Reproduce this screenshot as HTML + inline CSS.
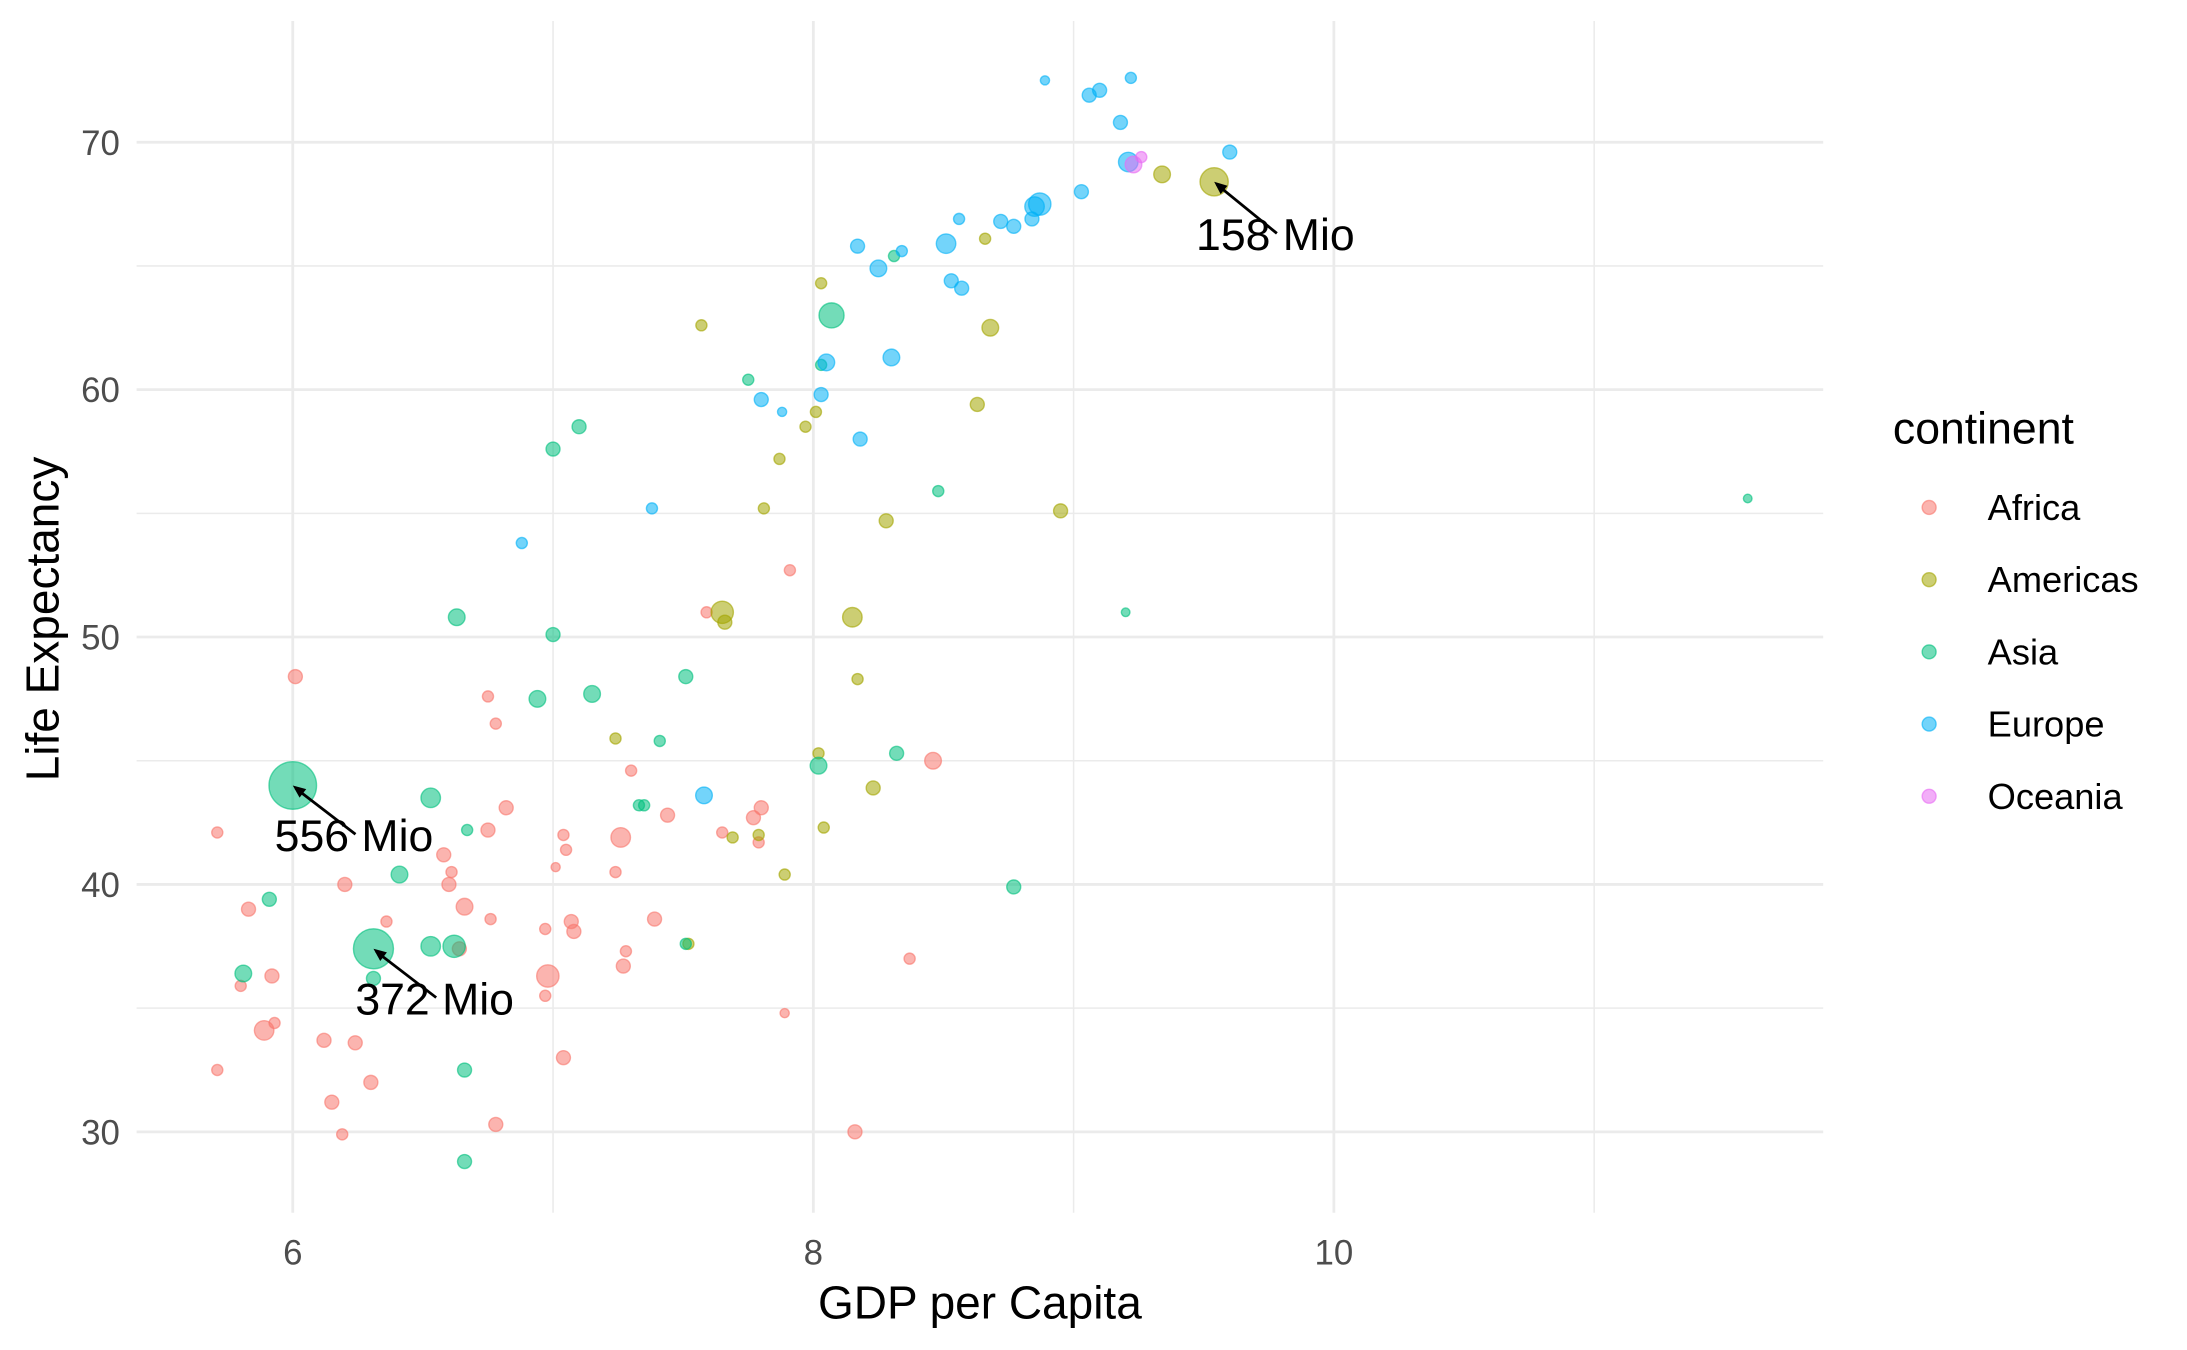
<!DOCTYPE html>
<html><head><meta charset="utf-8"><style>
html,body{margin:0;padding:0;background:#fff;}
svg{display:block;font-family:"Liberation Sans",Arial,sans-serif;}
</style></head><body>
<svg id="chart" width="2187" height="1350" viewBox="0 0 1569 968.4" xmlns="http://www.w3.org/2000/svg">
<g id="grid"></g>
<g id="points"></g>
<g id="annots"></g>
<g id="axes"></g>
<g id="legend"></g>
</svg>
<script>
const continents = ["Africa","Americas","Asia","Europe","Oceania"];
const colors = ["#F8766D","#A3A500","#00BF7D","#00B0F6","#E76BF3"];
const xTicks = [6,8,10];
const yTicks = [30,40,50,60,70];
const africaGdp = [5.71,5.71,6.01,5.83,5.92,5.80,5.93,5.89,6.12,6.24,6.15,6.30,6.19,6.20,6.36,6.58,6.61,6.60,6.66,6.75,6.82,6.75,6.78,6.76,6.64,6.78,6.98,6.97,6.97,7.01,7.04,7.05,7.07,7.08,7.04,7.26,7.24,7.30,7.28,7.27,7.39,7.44,7.59,7.65,7.77,7.80,7.79,7.91,7.89,8.16,8.46,8.37];
const africaLife = [32.5,42.1,48.4,39.0,36.3,35.9,34.4,34.1,33.7,33.6,31.2,32.0,29.9,40.0,38.5,41.2,40.5,40.0,39.1,42.2,43.1,47.6,46.5,38.6,37.4,30.3,36.3,35.5,38.2,40.7,42.0,41.4,38.5,38.1,33.0,41.9,40.5,44.6,37.3,36.7,38.6,42.8,51.0,42.1,42.7,43.1,41.7,52.7,34.8,30.0,45.0,37.0];
const africaPop = [8,8,20,20,20,8,8,58,20,20,20,20,8,20,8,20,8,20,36,20,20,8,8,8,20,20,85,8,8,3,8,8,20,20,20,58,8,8,8,20,20,20,8,8,20,20,8,8,3,20,36,8];
const americasGdp = [7.57,7.65,7.66,7.81,7.87,7.97,8.01,8.03,8.15,8.17,8.02,7.24,7.69,7.79,7.89,8.04,8.23,8.28,8.63,8.68,8.66,8.95,9.34,9.54,7.52];
const americasLife = [62.6,51.0,50.6,55.2,57.2,58.5,59.1,64.3,50.8,48.3,45.3,45.9,41.9,42.0,40.4,42.3,43.9,54.7,59.4,62.5,66.1,55.1,68.7,68.4,37.6];
const americasPop = [8,85,20,8,8,8,8,8,58,8,8,8,8,8,8,8,20,20,20,36,8,20,36,158,8];
const asiaGdp = [5.81,5.91,6.00,6.31,6.31,6.41,6.53,6.53,6.62,6.67,6.66,6.66,6.63,6.94,7.00,7.00,7.10,7.15,7.33,7.35,7.41,7.51,7.51,7.75,8.02,8.03,8.07,8.32,8.31,8.48,8.77,9.20,11.59];
const asiaLife = [36.4,39.4,44.0,37.4,36.2,40.4,43.5,37.5,37.5,42.2,32.5,28.8,50.8,47.5,50.1,57.6,58.5,47.7,43.2,43.2,45.8,48.4,37.6,60.4,44.8,61.0,63.0,45.3,65.4,55.9,39.9,51.0,55.6];
const asiaPop = [36,20,556,372,20,36,58,58,85,8,20,20,36,36,20,20,20,36,8,8,8,20,8,8,36,8,116,20,8,8,20,2,2];
const europeGdp = [6.88,7.38,7.58,7.80,7.88,8.03,8.05,8.18,8.17,8.25,8.30,8.34,8.51,8.53,8.57,8.56,8.72,8.77,8.84,8.85,8.87,8.89,9.03,9.06,9.10,9.18,9.21,9.22,9.60];
const europeLife = [53.8,55.2,43.6,59.6,59.1,59.8,61.1,58.0,65.8,64.9,61.3,65.6,65.9,64.4,64.1,66.9,66.8,66.6,66.9,67.4,67.5,72.5,68.0,71.9,72.1,70.8,69.2,72.6,69.6];
const europePop = [8,8,36,20,3,20,36,20,20,36,36,8,58,20,20,8,20,20,20,58,85,3,20,20,20,20,58,8,20];
const oceaniaGdp = [9.26,9.23];
const oceaniaLife = [69.4,69.1];
const oceaniaPop = [8,36];
const labelText = ["556 Mio","372 Mio","158 Mio"];
const labelGdp = [6.0,6.31,9.54];
const labelLife = [44.0,37.4,68.4];

const NS="http://www.w3.org/2000/svg";
const L=98,R=1308,T=15,B=870;
const xMin=5.40,xMax=11.88,yMin=26.73,yMax=74.9;
function sx(v){return L+(v-xMin)/(xMax-xMin)*(R-L);}
function sy(v){return B-(v-yMin)/(yMax-yMin)*(B-T);}
function rad(p){return 2.2+0.63*Math.sqrt(p);}
function mk(tag,attrs,parent){const e=document.createElementNS(NS,tag);for(const k in attrs)e.setAttribute(k,attrs[k]);parent.appendChild(e);return e;}

const grid=document.getElementById('grid');
for(let v=5.5;v<=xMax;v+=0.5){const isMaj=Math.abs(v-Math.round(v/2)*2)<1e-6;const isMin=Math.abs(v-Math.round(v))<1e-6;if(!isMaj&&!isMin)continue;
 const l=mk('line',{x1:sx(v),x2:sx(v),y1:T,y2:B,stroke:'#ebebeb','stroke-width':isMaj?2:1.1},grid);
 
 }
for(let v=30;v<=70;v+=5){const isMaj=v%10===0;
 const l=mk('line',{x1:L,x2:R,y1:sy(v),y2:sy(v),stroke:'#ebebeb','stroke-width':isMaj?2:1.1},grid);
 
 }

const axes=document.getElementById('axes');
xTicks.forEach(t=>{const e=mk('text',{x:sx(t),y:907,'text-anchor':'middle','font-size':25,fill:'#4d4d4d'},axes);e.textContent=t;
 
 });
yTicks.forEach(t=>{const e=mk('text',{x:86,y:sy(t)+9,'text-anchor':'end','font-size':25,fill:'#4d4d4d'},axes);e.textContent=t;
 
 });
let xt=mk('text',{x:703,y:946,'text-anchor':'middle','font-size':33,fill:'#000'},axes);xt.textContent='GDP per Capita';


let yt=mk('text',{x:0,y:0,'text-anchor':'middle','font-size':33,fill:'#000',transform:'translate(42,444) rotate(-90)'},axes);yt.textContent='Life Expectancy';



const pts=document.getElementById('points');
const series=[[africaGdp,africaLife,africaPop],[americasGdp,americasLife,americasPop],[asiaGdp,asiaLife,asiaPop],[europeGdp,europeLife,europePop],[oceaniaGdp,oceaniaLife,oceaniaPop]];
series.forEach((s,ci)=>{s[0].forEach((g,i)=>{
 const c=mk('circle',{cx:sx(g),cy:sy(s[1][i]),r:rad(s[2][i]),fill:colors[ci],'fill-opacity':0.55,stroke:colors[ci],'stroke-opacity':0.6,'stroke-width':1},pts);
 
 });});

const an=document.getElementById('annots');
const offs=[[45,35],[45,35],[45,37]];
labelText.forEach((t,i)=>{const x0=sx(labelGdp[i]),y0=sy(labelLife[i]);const x1=x0+offs[i][0],y1=y0+offs[i][1];
 const ln=mk('line',{x1:x1,y1:y1,x2:x0+2,y2:y0+2,stroke:'#000','stroke-width':2},an);
 
 
 const ang=Math.atan2(y0-y1,x0-x1);const hx=x0,hy=y0;
 const p=mk('polygon',{points:`${hx},${hy} ${hx-10*Math.cos(ang-0.4)},${hy-10*Math.sin(ang-0.4)} ${hx-10*Math.cos(ang+0.4)},${hy-10*Math.sin(ang+0.4)}`,fill:'#000'},an);
 
 
 const tx=mk('text',{x:x1-58,y:y1+12,'font-size':32,fill:'#000'},an);tx.textContent=t;
 
 });

const lg=document.getElementById('legend');
let lt=mk('text',{x:1358,y:318,'font-size':32,fill:'#000'},lg);lt.textContent='continent';


continents.forEach((c,i)=>{const y=364+i*51.8;
 const d=mk('circle',{cx:1384,cy:y,r:5,fill:colors[i],'fill-opacity':0.55,stroke:colors[i],'stroke-opacity':0.6},lg);
 
 
 const t=mk('text',{x:1426,y:y+9,'font-size':26,fill:'#000'},lg);t.textContent=c;
 
 });
</script>
</body></html>
